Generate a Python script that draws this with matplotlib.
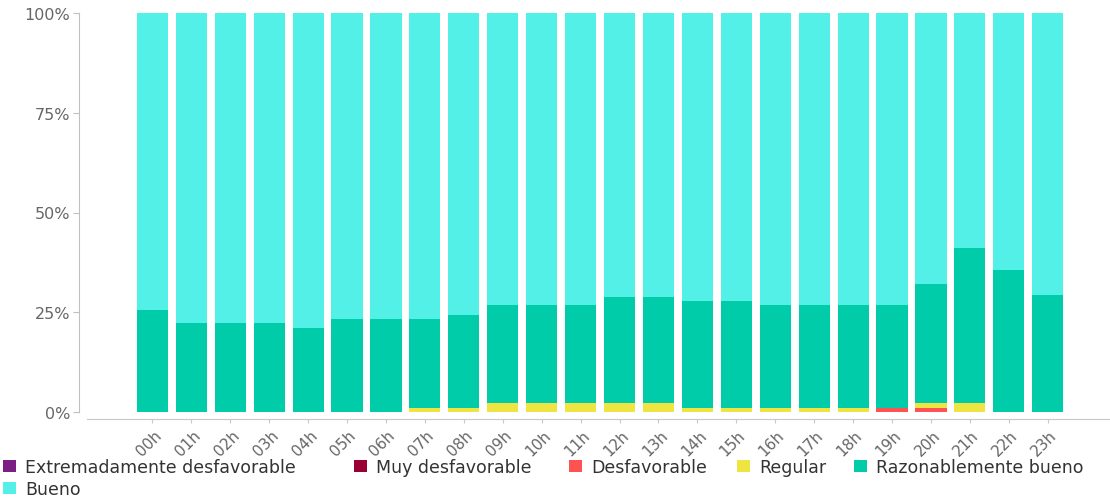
import numpy as np
import matplotlib
matplotlib.use("Agg")
import matplotlib.pyplot as plt
from matplotlib.patches import Patch
from matplotlib.transforms import ScaledTranslation

# =====================
# Datos: porcentaje de horas por categoría de calidad del aire
# =====================
horas = ["00h", "01h", "02h", "03h", "04h", "05h", "06h", "07h", "08h", "09h", "10h", "11h",
         "12h", "13h", "14h", "15h", "16h", "17h", "18h", "19h", "20h", "21h", "22h", "23h"]

extremadamente = [0, 0, 0, 0, 0, 0, 0, 0, 0, 0, 0, 0,
                  0, 0, 0, 0, 0, 0, 0, 0, 0, 0, 0, 0]
muy_desfavorable = [0, 0, 0, 0, 0, 0, 0, 0, 0, 0, 0, 0,
                    0, 0, 0, 0, 0, 0, 0, 0, 0, 0, 0, 0]
desfavorable = [0, 0, 0, 0, 0, 0, 0, 0, 0, 0, 0, 0,
                0, 0, 0, 0, 0, 0, 0, 1.1, 1.1, 0, 0, 0]
regular = [0, 0, 0, 0, 0, 0, 0, 1.1, 1.1, 2.2, 2.2, 2.2,
           2.2, 2.2, 1.1, 1.1, 1.1, 1.1, 1.1, 0, 1.1, 2.2, 0, 0]
razonable = [25.6, 22.2, 22.2, 22.2, 21.1, 23.3, 23.3, 22.2, 23.3, 24.5, 24.5, 24.5,
             26.7, 26.7, 26.7, 26.7, 25.6, 25.6, 25.6, 25.6, 30.0, 38.9, 35.6, 29.3]
bueno = [74.4, 77.8, 77.8, 77.8, 78.9, 76.7, 76.7, 76.7, 75.6, 73.3, 73.3, 73.3,
         71.1, 71.1, 72.2, 72.2, 73.3, 73.3, 73.3, 73.3, 67.8, 58.9, 64.4, 70.7]

series = [
    ("Extremadamente desfavorable", extremadamente, "#7b1f82"),
    ("Muy desfavorable", muy_desfavorable, "#990033"),
    ("Desfavorable", desfavorable, "#ff5252"),
    ("Regular", regular, "#eee542"),
    ("Razonablemente bueno", razonable, "#00ccaa"),
    ("Bueno", bueno, "#52f0e6"),
]

# =====================
# Figura
# =====================
fig = plt.figure(figsize=(11.1, 5.02), dpi=100)
ax = fig.add_axes([87 / 1110, 89 / 502, 1 - 87 / 1110, 399 / 502])

x = np.arange(len(horas))
base = np.zeros(len(horas))
for nombre, valores, color in series:
    v = np.array(valores) / 100
    ax.bar(x, v, width=0.8, bottom=base, color=color, linewidth=0, label=nombre)
    base = base + v

ax.set_xlim(-1.68, 24.6)
ax.set_ylim(0, 1)

# ejes
for s in ["top", "right"]:
    ax.spines[s].set_visible(False)
ax.spines["left"].set_position(("outward", 6))
ax.spines["left"].set_color("#c0c0c0")
ax.spines["bottom"].set_position(("outward", 5))
ax.spines["bottom"].set_color("#c8c8c8")

ax.set_yticks([0, 0.25, 0.5, 0.75, 1.0])
ax.set_yticklabels(["0%", "25%", "50%", "75%", "100%"])
ax.tick_params(axis="y", length=4, width=0.8, color="#c0c0c0", labelsize=11.5,
               labelcolor="#666666", pad=2)

ax.set_xticks(x)
ax.set_xticklabels(horas)
ax.tick_params(axis="x", length=3, width=0.8, color="#c8c8c8", labelsize=11,
               labelcolor="#666666", pad=2)
offset = ScaledTranslation(1 / 72, -1 / 72, fig.dpi_scale_trans)
for lbl in ax.get_xticklabels():
    lbl.set_rotation(45)
    lbl.set_ha("right")
    lbl.set_rotation_mode("anchor")
    lbl.set_transform(lbl.get_transform() + offset)

# =====================
# Leyenda
# =====================
pos_leyenda = [(0, 468), (351, 468), (566, 468), (734, 468), (851, 468), (0, 490)]
for (nombre, valores, color), (px, py) in zip(series, pos_leyenda):
    fig.legend(handles=[Patch(facecolor=color, edgecolor="none")], labels=[nombre],
               loc="center left", bbox_to_anchor=(px / 1110, 1 - py / 502),
               frameon=False, fontsize=12.5, labelcolor="#333333",
               handlelength=0.7, handleheight=0.7, handletextpad=0.55,
               borderpad=0, borderaxespad=0.2)

plt.savefig("out.png", dpi=100)
